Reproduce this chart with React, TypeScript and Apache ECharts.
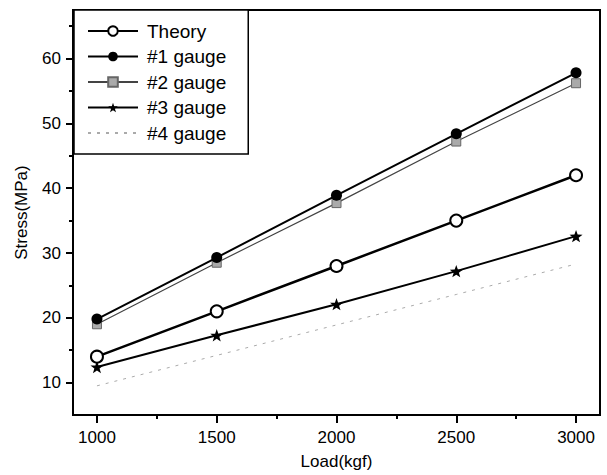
import React, { useEffect, useRef } from "react";
import * as echarts from "echarts";

const loads = [1000, 1500, 2000, 2500, 3000];
const theory = [14.0, 21.0, 28.0, 35.0, 42.0];
const gauge1 = [19.8, 29.3, 38.9, 48.4, 57.8];
const gauge2 = [19.0, 28.5, 37.7, 47.2, 56.2];
const gauge3 = [12.4, 17.3, 22.1, 27.2, 32.6];
const gauge4 = [9.5, 14.2, 18.9, 23.6, 28.3];

const seriesNames = ["Theory", "#1 gauge", "#2 gauge", "#3 gauge", "#4 gauge"];
const xMajor = [1000, 1500, 2000, 2500, 3000];
const xMinor = [1250, 1750, 2250, 2750];
const yMajor = [10, 20, 30, 40, 50, 60];
const yMinor = [15, 25, 35, 45, 55, 65];

const FONT = "'Liberation Sans', Arial, Helvetica, sans-serif";
const STAR =
  "path://M0,-10L2.35,-3.24L9.51,-3.09L3.8,1.24L5.88,8.09L0,4.2L-5.88,8.09L-3.8,1.24L-9.51,-3.09L-2.35,-3.24Z";

const pairs = (ys: number[]) => loads.map((x, i) => [x, ys[i]]);

export default function App() {
  const ref = useRef<HTMLDivElement>(null);
  useEffect(() => {
    if (!ref.current) return;
    const chart = echarts.init(ref.current, null, { renderer: "svg" });
    const labelStyle = { color: "#000", fontSize: 17, fontFamily: FONT };
    const plain = (v: number) => String(v);
    chart.setOption({
      animation: false,
      backgroundColor: "#fff",
      grid: {
        left: 73,
        right: 7,
        top: 10,
        bottom: 57,
        show: true,
        borderColor: "#000",
        borderWidth: 2,
        backgroundColor: "transparent",
      },
      legend: {
        orient: "vertical",
        left: 74,
        top: 10,
        itemWidth: 50,
        itemHeight: 12,
        itemGap: 5.5,
        padding: [11, 22, 11, 13],
        borderColor: "#000",
        borderWidth: 1.5,
        backgroundColor: "#fff",
        data: [
          { name: seriesNames[0] },
          { name: seriesNames[1] },
          { name: seriesNames[2] },
          { name: seriesNames[3] },
          { name: seriesNames[4], itemStyle: { opacity: 0 } },
        ],
        textStyle: { color: "#000", fontSize: 19, fontFamily: FONT, lineHeight: 20, padding: [0, 0, 0, 4] },
      },
      xAxis: [
        {
          type: "value",
          position: "bottom",
          min: 900,
          max: 3100,
          name: "Load(kgf)",
          nameLocation: "middle",
          nameGap: 38,
          nameTextStyle: labelStyle,
          axisLine: { show: true, lineStyle: { color: "#000", width: 2 } },
          axisTick: { show: true, inside: false, length: 8, customValues: xMajor, lineStyle: { color: "#000", width: 2 } },
          axisLabel: { show: true, margin: 14, customValues: xMajor, formatter: plain, ...labelStyle },
          splitLine: { show: false },
        },
        {
          type: "value",
          position: "bottom",
          offset: 0,
          min: 900,
          max: 3100,
          axisLine: { show: false },
          axisTick: { show: true, inside: false, length: 4, customValues: xMinor, lineStyle: { color: "#000", width: 2 } },
          axisLabel: { show: false },
          splitLine: { show: false },
        },
      ],
      yAxis: [
        {
          type: "value",
          position: "left",
          min: 5,
          max: 67.5,
          name: "Stress(MPa)",
          nameLocation: "middle",
          nameGap: 43,
          nameTextStyle: labelStyle,
          axisLine: { show: true, lineStyle: { color: "#000", width: 2 } },
          axisTick: { show: true, inside: false, length: 7, customValues: yMajor, lineStyle: { color: "#000", width: 2 } },
          axisLabel: { show: true, margin: 12, customValues: yMajor, formatter: plain, ...labelStyle },
          splitLine: { show: false },
        },
        {
          type: "value",
          position: "left",
          offset: 0,
          min: 5,
          max: 67.5,
          axisLine: { show: false },
          axisTick: { show: true, inside: false, length: 4, customValues: yMinor, lineStyle: { color: "#000", width: 2 } },
          axisLabel: { show: false },
          splitLine: { show: false },
        },
      ],
      series: [
        {
          name: seriesNames[0],
          type: "line",
          data: pairs(theory),
          symbol: "circle",
          symbolSize: 12,
          lineStyle: { color: "#000", width: 2.5 },
          itemStyle: { color: "#fff", borderColor: "#000", borderWidth: 2 },
          z: 5,
        },
        {
          name: seriesNames[1],
          type: "line",
          data: pairs(gauge1),
          symbol: "circle",
          symbolSize: 11,
          lineStyle: { color: "#000", width: 2 },
          itemStyle: { color: "#000", borderColor: "#000", borderWidth: 0 },
          z: 4,
        },
        {
          name: seriesNames[2],
          type: "line",
          data: pairs(gauge2),
          symbol: "rect",
          symbolSize: 9,
          lineStyle: { color: "#444", width: 1.2 },
          itemStyle: { color: "#aaa", borderColor: "#666", borderWidth: 1 },
          z: 3,
        },
        {
          name: seriesNames[3],
          type: "line",
          data: pairs(gauge3),
          symbol: STAR,
          symbolSize: 13,
          symbolKeepAspect: true,
          lineStyle: { color: "#000", width: 2 },
          itemStyle: { color: "#000" },
          z: 4,
        },
        {
          name: seriesNames[4],
          type: "line",
          data: pairs(gauge4),
          symbol: "none",
          lineStyle: { color: "#aaa", width: 1, type: [3, 6] },
          itemStyle: { color: "#aaa" },
          z: 2,
        },
      ],
    });
    return () => chart.dispose();
  }, []);
  return <div ref={ref} style={{ position: "absolute", left: 0, top: 0, width: 607, height: 475 }} />;
}
